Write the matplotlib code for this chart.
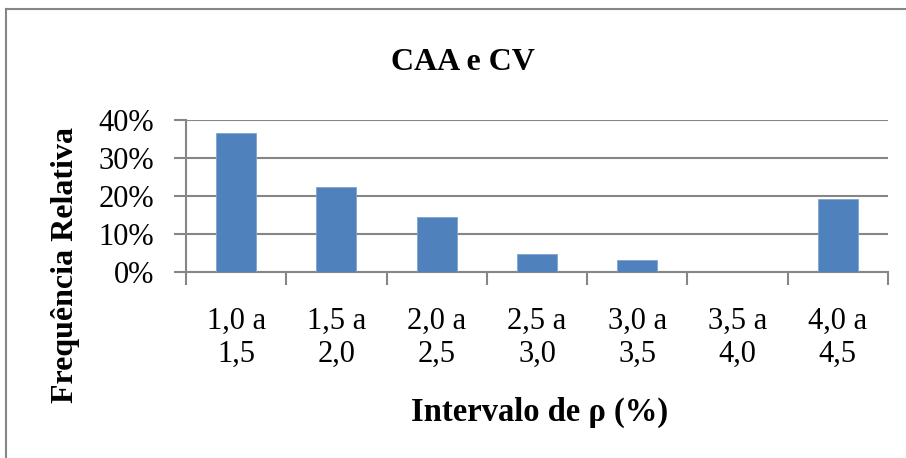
import matplotlib
matplotlib.use("Agg")
from matplotlib import pyplot as plt
from matplotlib.lines import Line2D
import numpy as np

categories = ['1,0 a\n1,5', '1,5 a\n2,0', '2,0 a\n2,5', '2,5 a\n3,0',
              '3,0 a\n3,5', '3,5 a\n4,0', '4,0 a\n4,5']
freq = [36.5, 22.3, 14.3, 4.7, 3.2, 0.0, 19.1]
y_ticks = [0, 10, 20, 30, 40]
y_labels = ['0%', '10%', '20%', '30%', '40%']

plt.rcParams['font.family'] = ['Liberation Serif', 'DejaVu Serif']

W, H = 906, 458
fig = plt.figure(figsize=(W / 100, H / 100), dpi=100)
ax = fig.add_axes([186 / W, 1 - 271.7 / H, (888 - 186) / W, (271.7 - 120) / H])

grey = '#868686'
x = np.arange(len(freq))
ax.bar(x, freq, width=0.4, color='#4F81BD', edgecolor='#7fa3d1', linewidth=0.6, zorder=3)

ax.set_xlim(-0.5, len(freq) - 0.5)
ax.set_ylim(0, 40)
ax.set_yticks(y_ticks)
ax.set_yticklabels(y_labels, fontsize=22)
ax.yaxis.grid(True, color=grey, linewidth=1.5, zorder=0)

# category boundary ticks on x
ax.set_xticks(np.arange(-0.5, len(freq), 1.0))
ax.set_xticklabels([])
ax.tick_params(axis='x', length=9, width=1.5, color=grey, direction='out')
ax.tick_params(axis='y', length=9, width=1.5, color=grey, direction='out', pad=14)
for i, c in enumerate(categories):
    ax.text(i, -0.23, c, transform=ax.get_xaxis_transform(), ha='center', va='top',
            fontsize=22, linespacing=1.2)

for s in ['top', 'right']:
    ax.spines[s].set_visible(False)
for s in ['left', 'bottom']:
    ax.spines[s].set_color(grey)
    ax.spines[s].set_linewidth(1.5)

fig.text(463 / W, 1 - 62 / H, 'CAA e CV', ha='center', va='center',
         fontsize=23, fontweight='bold')
fig.text(540 / W, 1 - 412 / H, 'Intervalo de ρ (%)', ha='center', va='center',
         fontsize=23.5, fontweight='bold')
fig.text(66 / W, 1 - 265 / H, 'Frequência Relativa', ha='center', va='center',
         rotation=90, fontsize=23, fontweight='bold')

# chart area border (left and top visible)
fig.add_artist(Line2D([6 / W, 6 / W], [0, 1 - 8.5 / H], color=grey, linewidth=1.5,
                      transform=fig.transFigure))
fig.add_artist(Line2D([6 / W, 1], [1 - 8.5 / H, 1 - 8.5 / H], color=grey, linewidth=1.5,
                      transform=fig.transFigure))

fig.savefig('out.png', dpi=100)
